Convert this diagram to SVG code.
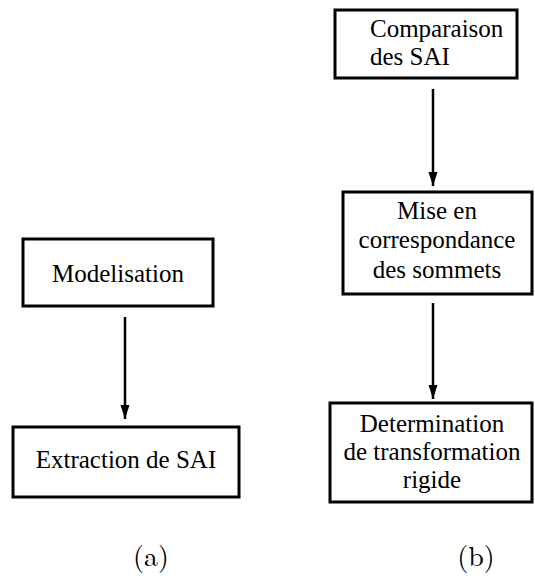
<svg xmlns="http://www.w3.org/2000/svg" width="535" height="588" viewBox="0 0 535 588">
<style>
.box{fill:#fff;stroke:#000;stroke-width:3}
.t{font-family:'Liberation Serif','DejaVu Serif',serif;font-size:25px;fill:#000}
.c{text-anchor:middle}
.lbl{font-family:'Latin Modern Roman','Liberation Serif',serif;font-size:28px;fill:#000;text-anchor:middle}
.edge{stroke:#000;stroke-width:2.5;fill:none}
</style>
<defs>
<marker id="ah" markerWidth="14" markerHeight="10" refX="14" refY="5" orient="auto" markerUnits="userSpaceOnUse" viewBox="0 0 14 10">
<path d="M0,0.5 L14,5 L0,9.5 Z" fill="#000"/>
</marker>
</defs>
<g id="connectors">
<line class="edge" x1="125" y1="317" x2="125" y2="419" marker-end="url(#ah)"/>
<line class="edge" x1="433" y1="89" x2="433" y2="186" marker-end="url(#ah)"/>
<line class="edge" x1="433" y1="303" x2="433" y2="399" marker-end="url(#ah)"/>
</g>
<g id="modelisation">
<rect class="box" x="23" y="239" width="190" height="67"/>
<text class="t c" x="118" y="282">Modelisation</text>
</g>
<g id="extraction">
<rect class="box" x="13" y="427" width="226" height="70"/>
<text class="t c" x="126" y="468">Extraction de SAI</text>
</g>
<g id="comparaison">
<rect class="box" x="335" y="10" width="182" height="68"/>
<text class="t" x="370" y="37">Comparaison</text>
<text class="t" x="370" y="65">des SAI</text>
</g>
<g id="mise">
<rect class="box" x="343" y="192" width="189" height="102"/>
<text class="t c" x="437" y="219">Mise en</text>
<text class="t c" x="437" y="248">correspondance</text>
<text class="t c" x="437" y="278">des sommets</text>
</g>
<g id="determination">
<rect class="box" x="330" y="403" width="202" height="99"/>
<text class="t c" x="432" y="432">Determination</text>
<text class="t c" x="432" y="460">de transformation</text>
<text class="t c" x="432" y="488">rigide</text>
</g>
<g id="labels">
<text class="lbl" x="151" y="566">(a)</text>
<text class="lbl" x="476" y="566">(b)</text>
</g>
</svg>
